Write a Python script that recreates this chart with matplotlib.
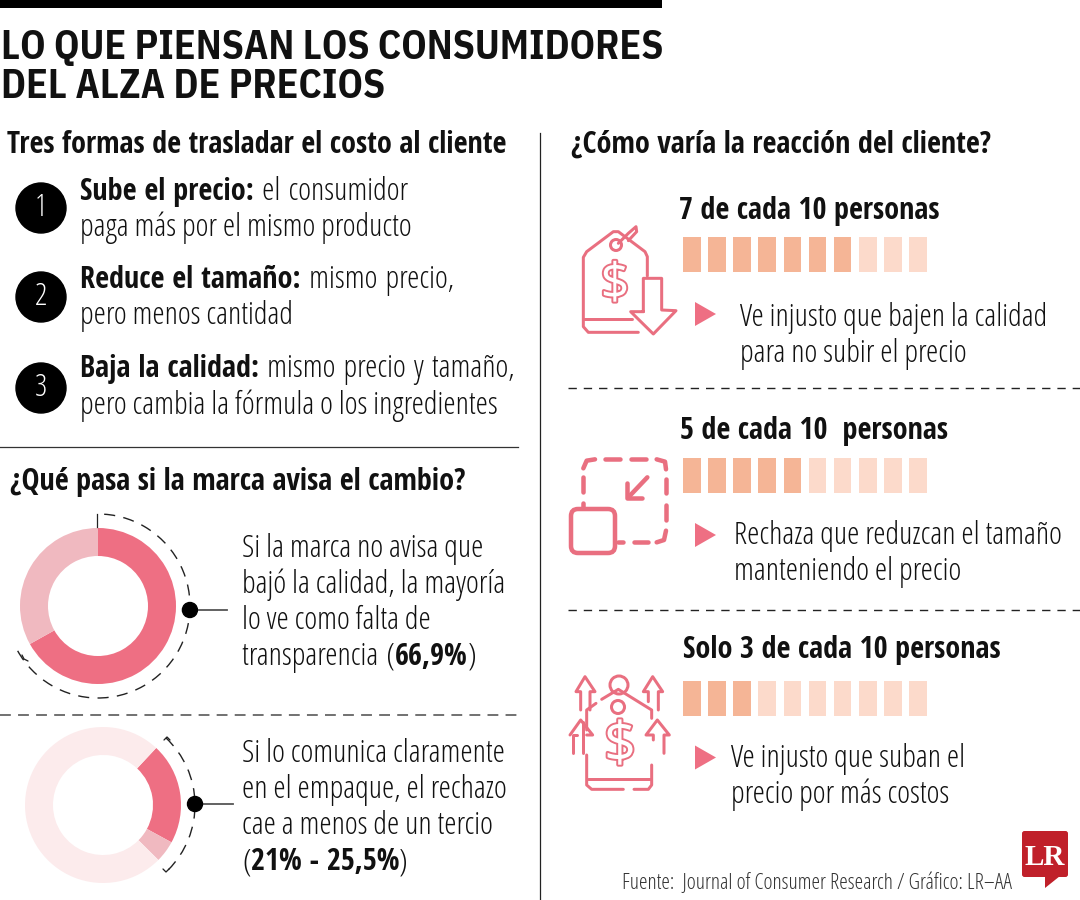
import matplotlib
matplotlib.use("Agg")
import matplotlib.pyplot as plt
from matplotlib import patheffects as pe
from matplotlib.patches import Arc, Circle, FancyBboxPatch, Polygon, Rectangle

# data
sin_aviso = [66.9, 33.1]
con_aviso = [21, 4.5, 74.5]
personas = [7, 5, 3]
total_personas = 10

titulo = ["LO QUE PIENSAN LOS CONSUMIDORES", "DEL ALZA DE PRECIOS"]
formas = [
    ("Sube el precio:", " el consumidor", "paga más por el mismo producto"),
    ("Reduce el tamaño:", " mismo precio,", "pero menos cantidad"),
    ("Baja la calidad:", " mismo precio y tamaño,", "pero cambia la fórmula o los ingredientes"),
]
texto_sin = ["Si la marca no avisa que", "bajó la calidad, la mayoría", "lo ve como falta de"]
texto_con = ["Si lo comunica claramente", "en el empaque, el rechazo", "cae a menos de un tercio"]
cabeceras = ["7 de cada 10 personas", "5 de cada 10  personas", "Solo 3 de cada 10 personas"]
reacciones = [
    ["Ve injusto que bajen la calidad", "para no subir el precio"],
    ["Rechaza que reduzcan el tamaño", "manteniendo el precio"],
    ["Ve injusto que suban el", "precio por más costos"],
]

ROSA = "#ee6f83"
ROSA_CLARO = "#f0b9c0"
ROSA_PALIDO = "#fcebec"
NARANJA = "#f5b596"
NARANJA_CLARO = "#fcdacb"
ICONO = "#e96f80"
PX = 0.72
CUERPO = 22.4
NEGRITA = 21.7

fig = plt.figure(figsize=(10.8, 9), dpi=100)
ax = fig.add_axes([0, 0, 1, 1])


def Y(y):
    return 900 - y


def txt(x, y, s, size=CUERPO, bold=False, **kw):
    if bold:
        font = dict(family=["Open Sans Condensed", "Open Sans"], fontweight="bold", fontstretch="condensed")
        size = min(size, NEGRITA) if size == CUERPO else size
    else:
        font = dict(family="Open Sans", fontweight=300, fontstretch="condensed")
    return ax.text(x, Y(y), s, fontsize=size, va="baseline", color=kw.pop("color", "#111111"), **font, **kw)


def mixed(x, y, parts):
    # pieces of text on one baseline, bold or not
    r = fig.canvas.get_renderer()
    for s, bold in parts:
        t = txt(x, y, s.replace(" ", "\u00a0"), bold=bold)
        x = t.get_window_extent(r).x1


def line(points, lw=3, color=ICONO, **kw):
    xs = [p[0] for p in points]
    ys = [Y(p[1]) for p in points]
    ax.plot(xs, ys, color=color, lw=lw * PX, solid_capstyle="round", solid_joinstyle="round", **kw)


def zoomed(ox, oy, points):
    return [(ox + x / 3, oy + y / 3) for x, y in points]


def dot_x(cx, dot_y, cy):
    return cx + (92 ** 2 - (dot_y - cy) ** 2) ** 0.5


def donut(values, colors, cx, cy, start, arc_share, dot_y, end_x):
    ax.pie(values, colors=colors, startangle=90 - start, counterclock=False, radius=78,
           center=(cx, Y(cy)), wedgeprops={"width": 28, "linewidth": 0})
    end = start + arc_share * 3.6
    ax.add_patch(Arc((cx, Y(cy)), 184, 184, theta1=90 - end, theta2=90 - start,
                     color="#222222", lw=1.0, ls=(0, (8, 6)), zorder=3))
    ax.plot([dot_x(cx, dot_y, cy), end_x], [Y(dot_y)] * 2, color="#555555", lw=1.3, zorder=3)
    ax.add_patch(Circle((dot_x(cx, dot_y, cy), Y(dot_y)), 7.5, color="black", zorder=4))


# left donuts first because pie resets the limits
donut(sin_aviso, [ROSA, ROSA_CLARO], 98, 606, 0, sin_aviso[0], 610, 227)
donut(con_aviso, [ROSA, ROSA_CLARO, ROSA_PALIDO], 103, 805, 43, con_aviso[0] + con_aviso[1], 804, 233)

ax.set_xlim(0, 1080)
ax.set_ylim(0, 900)
ax.set_aspect("auto")
ax.axis("off")
fig.canvas.draw()

# small closing ticks of the dashed arcs
ax.plot([97, 97], [Y(514), Y(527)], color="#222222", lw=0.9)
line([(22, 655), (24, 659), (28, 661)], lw=1.3, color="#222222")
line([(164, 740), (167, 737), (170, 740)], lw=1.3, color="#222222")
line([(163, 869), (166, 872), (169, 869)], lw=1.3, color="#222222")

# head
ax.add_patch(Rectangle((0, Y(8)), 662, 8, color="black", lw=0))
for s, y in zip(titulo, [59, 98]):
    ax.text(1, Y(y), s, fontsize=28.5, family=["IBM Plex Sans Condensed", "Roboto"], fontweight="bold",
            va="baseline", color="#111111")

# left column
txt(7, 153, "Tres formas de trasladar el costo al cliente", size=NEGRITA, bold=True)
for i, ((fuerte, resto, segunda), cy, base) in enumerate(zip(formas, [208, 297, 388], [200, 288, 377])):
    ax.add_patch(Circle((41, Y(cy)), 25, color="black", zorder=2))
    ax.text(41, Y(cy), str(i + 1), color="white", fontsize=22, family="Open Sans", fontstretch="condensed",
            fontweight=300, ha="center", va="center", zorder=3)
    mixed(80, base, [(fuerte, True), (resto, False)])
    txt(80, base + 36.5, segunda)
ax.plot([0, 518], [Y(447)] * 2, color="#333333", lw=0.9)
txt(10, 490, "¿Qué pasa si la marca avisa el cambio?", size=NEGRITA, bold=True)

for s, y in zip(texto_sin, [557, 593, 629]):
    txt(242, y, s)
mixed(242, 665, [("transparencia (", False), ("66,9%", True), (")", False)])
ax.plot([0, 518], [Y(715)] * 2, color="#666666", lw=1.3, ls=(0, (6, 4)))
for s, y in zip(texto_con, [762, 798, 834]):
    txt(242, y, s)
mixed(242, 870, [("(", False), ("21% - 25,5%", True), (")", False)])

# right column
ax.plot([540, 540], [Y(133), Y(900)], color="#222222", lw=0.9)
txt(571, 153, "¿Cómo varía la reacción del cliente?", size=NEGRITA, bold=True)

head_pos = [(679, 219), (680, 439), (683, 658)]
bar_top = [237, 457.5, 680.5]
tri_y = [314, 535, 757.5]
react_pos = [(740, 326), (734, 544), (731, 767)]
for k in range(3):
    txt(head_pos[k][0], head_pos[k][1], cabeceras[k], size=21.7, bold=True)
    for j in range(total_personas):
        c = NARANJA if j < personas[k] else NARANJA_CLARO
        ax.add_patch(Rectangle((683 + 25.15 * j, Y(bar_top[k] + 35)), 17.5, 35, color=c, lw=0))
    ax.add_patch(Polygon([(695, Y(tri_y[k] - 12)), (695, Y(tri_y[k] + 12)), (716, Y(tri_y[k]))],
                         color=ROSA, lw=0))
    for n, s in enumerate(reacciones[k]):
        txt(react_pos[k][0], react_pos[k][1] + 36 * n, s)

ax.plot([568, 1080], [Y(388)] * 2, color="#222222", lw=1, ls=(0, (6, 5)))
ax.plot([568, 1080], [Y(610)] * 2, color="#222222", lw=1, ls=(0, (6, 5)))

# icon 1, tag with arrow down
o1 = (560, 200)
line(zoomed(*o1, [(262, 228), (262, 170), (255, 155), (175, 95), (160, 95), (80, 155), (70, 172),
                  (70, 380), (85, 397), (235, 397)]))
line(zoomed(*o1, [(70, 357), (215, 357)]))
ax.add_patch(Circle((560 + 56, Y(200 + 45)), 5.5, fill=False, ec=ICONO, lw=3 * PX))
line(zoomed(*o1, [(175, 130), (205, 100), (228, 80), (230, 95), (205, 122)]))
line(zoomed(*o1, [(250, 335), (250, 235), (305, 235), (305, 330), (348, 332), (280, 402), (212, 335), (250, 335)]))
ax.text(560 + 55, Y(200 + 86), "$", fontsize=36, family="Open Sans", color="white", ha="center", va="center",
        path_effects=[pe.withStroke(linewidth=2.8, foreground=ICONO)])

# icon 2, dashed box shrinking
o2 = (560, 440)
for seg in [[(70, 85), (80, 62), (105, 58)], [(135, 58), (180, 58)], [(212, 58), (258, 58)], [(290, 58), (315, 65), (318, 88)],
            [(318, 118), (318, 160)], [(318, 195), (318, 240)], [(318, 272), (312, 300), (290, 307)], [(222, 307), (265, 307)],
            [(70, 112), (70, 155)], [(70, 190), (70, 205)], [(175, 305), (190, 305)],
            [(262, 112), (205, 172)], [(202, 130), (202, 175), (245, 175)]]:
    line(zoomed(*o2, seg), lw=4.5)
ax.add_patch(FancyBboxPatch((571, Y(553)), 44, 44, boxstyle="round,pad=0,rounding_size=7",
                            fc="white", ec=ICONO, lw=4.5 * PX, zorder=3))

# icon 3, tag with arrows up
o3 = (560, 660)
for seg in [[(125, 118), (175, 88), (275, 150), (275, 175)], [(108, 130), (80, 150), (80, 210)], [(80, 285), (80, 375), (95, 388), (190, 388)],
            [(222, 388), (265, 388), (275, 375), (275, 315)], [(85, 358), (270, 358)],
            [(70, 280), (70, 185)], [(30, 225), (62, 180), (98, 225), (80, 225)], [(50, 225), (40, 225), (40, 280)],
            [(312, 280), (312, 225), (328, 225), (292, 180), (258, 225), (280, 225), (280, 240)],
            [(90, 150), (90, 95), (105, 95), (75, 50), (48, 95), (62, 95), (62, 150)],
            [(295, 150), (295, 95), (308, 95), (278, 50), (250, 95), (265, 95), (265, 125)]]:
    line(zoomed(*o3, seg), lw=3)
ax.add_patch(Circle((560 + 59, Y(660 + 25)), 9, fill=False, ec=ICONO, lw=3 * PX))
ax.add_patch(Circle((560 + 58, Y(660 + 47)), 6.5, fill=False, ec=ICONO, lw=3 * PX))
ax.text(560 + 60, Y(660 + 87), "$", fontsize=40, family="Open Sans", color="white", ha="center", va="center",
        path_effects=[pe.withStroke(linewidth=2.8, foreground=ICONO)])

# foot and logo
txt(622, 889, "Fuente:  Journal of Consumer Research / Gráfico: LR–AA", size=15.6, color="#333333")
ax.add_patch(FancyBboxPatch((1022, Y(877)), 46, 46, boxstyle="round,pad=0,rounding_size=2.5", color="#c0202a", lw=0))
ax.add_patch(Polygon([(1045, Y(876)), (1060, Y(876)), (1045, Y(888))], color="#c0202a", lw=0))
ax.text(1045, Y(865), "LR", color="white", fontsize=21, family="Liberation Serif", fontweight="bold", ha="center", va="baseline")

fig.savefig("out.png", dpi=100)
